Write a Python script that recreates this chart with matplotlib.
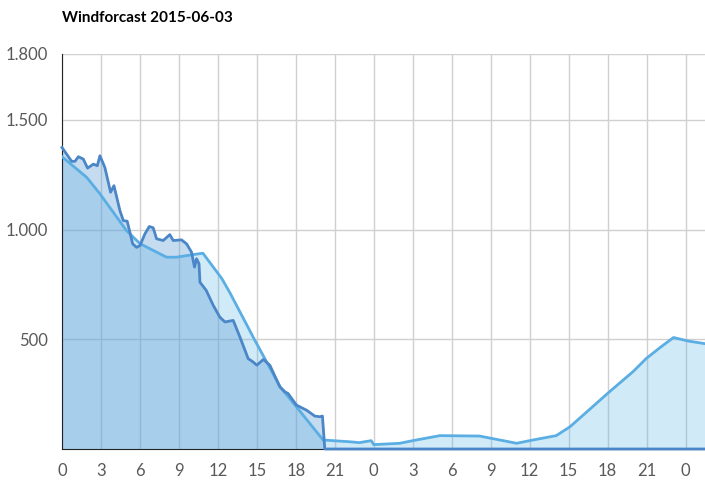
import matplotlib
matplotlib.use("Agg")
import matplotlib.pyplot as plt
import numpy as np

# measured wind (hours from start, value)
actual_h = [0, 0.74, 1.0, 1.26, 1.64, 1.97, 2.41, 2.72, 2.92, 3.3, 3.74, 4.0, 4.46, 4.72,
            5.02, 5.44, 5.74, 6.0, 6.38, 6.72, 7.02, 7.28, 7.79, 8.3, 8.56, 9.2, 9.59,
            9.97, 10.2, 10.36, 10.55, 10.62, 11.1, 11.64, 12.15, 12.54, 13.18, 13.7,
            14.33, 14.7, 15.0, 15.5, 16.0, 16.77, 17.15, 17.4, 18.05, 18.82, 19.46,
            19.85, 20.05, 20.23, 49.5]
actual_v = [1374, 1311, 1311, 1332, 1321, 1280, 1298, 1291, 1336, 1283, 1170, 1200, 1086,
            1041, 1038, 935, 919, 927, 980, 1014, 1008, 958, 950, 977, 950, 953, 935,
            897, 829, 867, 844, 760, 723, 655, 601, 579, 586, 510, 412, 397, 382, 408,
            382, 283, 261, 253, 200, 177, 150, 147, 150, 0, 0]

# forecast
fc_h = [0, 1.9, 2.92, 4.97, 6.0, 8.05, 8.8, 10.1, 10.85, 12.3, 12.9, 14.85, 16.8, 18.05,
        20.1, 22.15, 22.9, 23.8, 24.0, 26.0, 27.0, 29.1, 32.15, 35.0, 36.25, 38.05,
        39.1, 42.15, 43.95, 44.97, 46.1, 47.08, 48.2, 49.5]
fc_v = [1332, 1238, 1163, 995, 936, 874, 874, 886, 892, 777, 715, 495, 283, 192,
        41, 33, 29, 38, 20, 26, 38, 61, 59, 26, 41, 61, 101, 261, 352, 412, 465,
        508, 492, 480]

x_ticks = list(range(0, 49, 3))
x_labels = [str(h % 24) for h in x_ticks]
y_ticks = [500, 1000, 1500, 1800]
y_labels = ["500", "1.000", "1.500", "1.800"]

plt.rcParams['font.family'] = ['Lato', 'DejaVu Sans']

fig = plt.figure(figsize=(7.05, 4.9), dpi=100)
ax = fig.add_axes([62/705, 41/490, 643/705, 395/490])

ax.fill_between(fc_h, fc_v, 0, color='#5ab4e8', alpha=0.28, lw=0)
ax.fill_between(actual_h, actual_v, 0, color='#5b9bd5', alpha=0.35, lw=0)
ax.plot(fc_h, fc_v, color='#5aaee3', lw=2, zorder=3)
ax.plot(actual_h, actual_v, color='#4a86c8', lw=2, zorder=3, clip_on=False)

ax.set_xlim(0, 49.5)
ax.set_ylim(0, 1800)
ax.set_xticks(x_ticks)
ax.set_xticklabels(x_labels)
ax.set_yticks(y_ticks)
ax.set_yticklabels(y_labels)
ax.tick_params(length=0, labelsize=12, labelcolor='#595959')
ax.tick_params(axis='y', pad=10)
ax.tick_params(axis='x', pad=10)

ax.set_axisbelow(True)
ax.grid(True, color='#d0d0d0', lw=1)
for s in ['top', 'right']:
    ax.spines[s].set_visible(False)
ax.spines['left'].set_color('#222222')
ax.spines['bottom'].set_color('#222222')

fig.text(62/705, 1 - 18/490, "Windforcast 2015-06-03", fontsize=11,
         fontweight='bold', va='center', ha='left')

fig.savefig("out.png", dpi=100)
